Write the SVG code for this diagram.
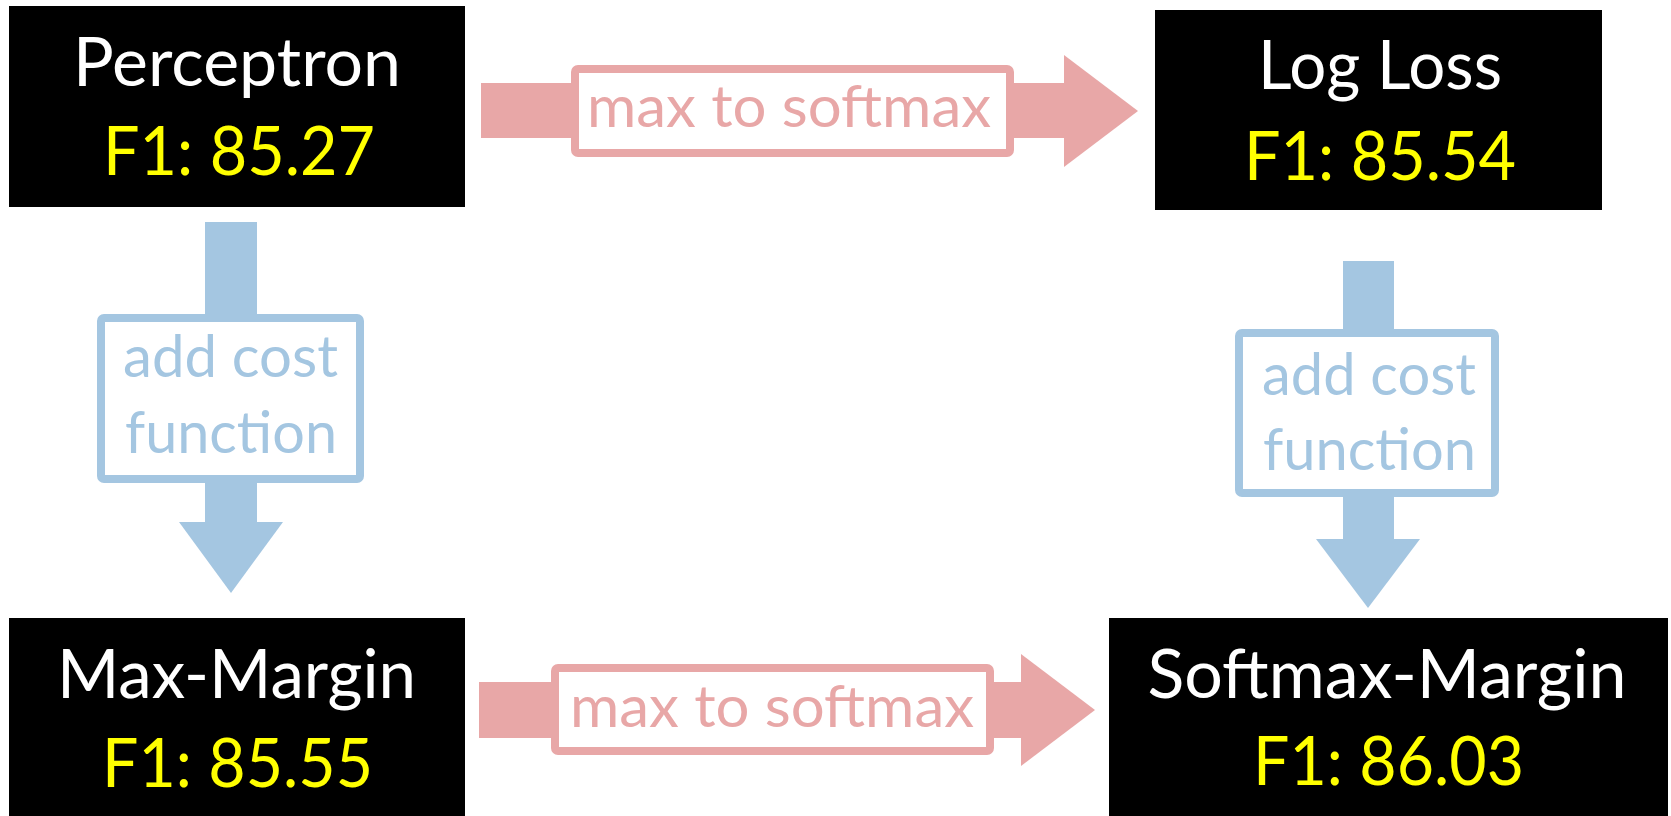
<svg xmlns="http://www.w3.org/2000/svg" width="1671" height="816" viewBox="0 0 1671 816">
<defs>
<style>
.node{fill:#000000}
.t{font-family:Lato,"Open Sans","Liberation Sans",sans-serif;font-size:67px;text-anchor:middle}
.w{fill:#FFFFFF}
.y{fill:#FFFF00}
.pink{fill:#E8A7A7}
.blue{fill:#A4C6E1}
.lblp{fill:#FFFFFF;stroke:#E8A7A7;stroke-width:8}
.lblb{fill:#FFFFFF;stroke:#A4C6E1;stroke-width:8}
.lt{font-family:Lato,"Open Sans","Liberation Sans",sans-serif;font-size:58px;text-anchor:middle}
.ltp{fill:#E8A7A7}
.ltb{fill:#A4C6E1}
</style>
</defs>
<rect width="1671" height="816" fill="#FFFFFF"/>
<g id="connectors">
  <g id="perceptron-to-logloss">
    <rect class="pink" x="481" y="83" width="584" height="55"/>
    <polygon class="pink" points="1064,55 1138,111 1064,167"/>
    <rect class="lblp" x="575" y="69" width="435" height="84" rx="3"/>
    <text class="lt ltp" x="789" y="127" textLength="404" lengthAdjust="spacingAndGlyphs">max to softmax</text>
  </g>
  <g id="maxmargin-to-softmaxmargin">
    <rect class="pink" x="479" y="682" width="543" height="56"/>
    <polygon class="pink" points="1021,654 1095,710 1021,766"/>
    <rect class="lblp" x="555" y="668" width="435" height="83" rx="3"/>
    <text class="lt ltp" x="772" y="727" textLength="404" lengthAdjust="spacingAndGlyphs">max to softmax</text>
  </g>
  <g id="perceptron-to-maxmargin">
    <rect class="blue" x="205" y="222" width="52" height="301"/>
    <polygon class="blue" points="179,522 283,522 231,593"/>
    <rect class="lblb" x="101" y="318" width="259" height="161" rx="3"/>
    <text class="lt ltb" x="230.5" y="377" textLength="215" lengthAdjust="spacingAndGlyphs">add cost</text>
    <text class="lt ltb" x="231" y="453" textLength="212" lengthAdjust="spacingAndGlyphs">function</text>
  </g>
  <g id="logloss-to-softmaxmargin">
    <rect class="blue" x="1343" y="261" width="51" height="279"/>
    <polygon class="blue" points="1316,539 1420,539 1368,608"/>
    <rect class="lblb" x="1239" y="333" width="256" height="160" rx="3"/>
    <text class="lt ltb" x="1369" y="395" textLength="214" lengthAdjust="spacingAndGlyphs">add cost</text>
    <text class="lt ltb" x="1369.5" y="470" textLength="213" lengthAdjust="spacingAndGlyphs">function</text>
  </g>
</g>
<g id="node-perceptron">
  <rect class="node" x="9" y="6" width="456" height="201"/>
  <text class="t w" x="237" y="86" textLength="328" lengthAdjust="spacingAndGlyphs">Perceptron</text>
  <text class="t y" x="239" y="175" textLength="272" lengthAdjust="spacingAndGlyphs">F1: 85.27</text>
</g>
<g id="node-logloss">
  <rect class="node" x="1155" y="10" width="447" height="200"/>
  <text class="t w" x="1380" y="89" textLength="244" lengthAdjust="spacingAndGlyphs">Log Loss</text>
  <text class="t y" x="1380" y="180" textLength="272" lengthAdjust="spacingAndGlyphs">F1: 85.54</text>
</g>
<g id="node-maxmargin">
  <rect class="node" x="9" y="618" width="456" height="198"/>
  <text class="t w" x="236.5" y="698" textLength="359" lengthAdjust="spacingAndGlyphs">Max-Margin</text>
  <text class="t y" x="237.5" y="787" textLength="271" lengthAdjust="spacingAndGlyphs">F1: 85.55</text>
</g>
<g id="node-softmaxmargin">
  <rect class="node" x="1109" y="618" width="559" height="198"/>
  <text class="t w" x="1387" y="698" textLength="479" lengthAdjust="spacingAndGlyphs">Softmax-Margin</text>
  <text class="t y" x="1388.5" y="785" textLength="271" lengthAdjust="spacingAndGlyphs">F1: 86.03</text>
</g>
</svg>
